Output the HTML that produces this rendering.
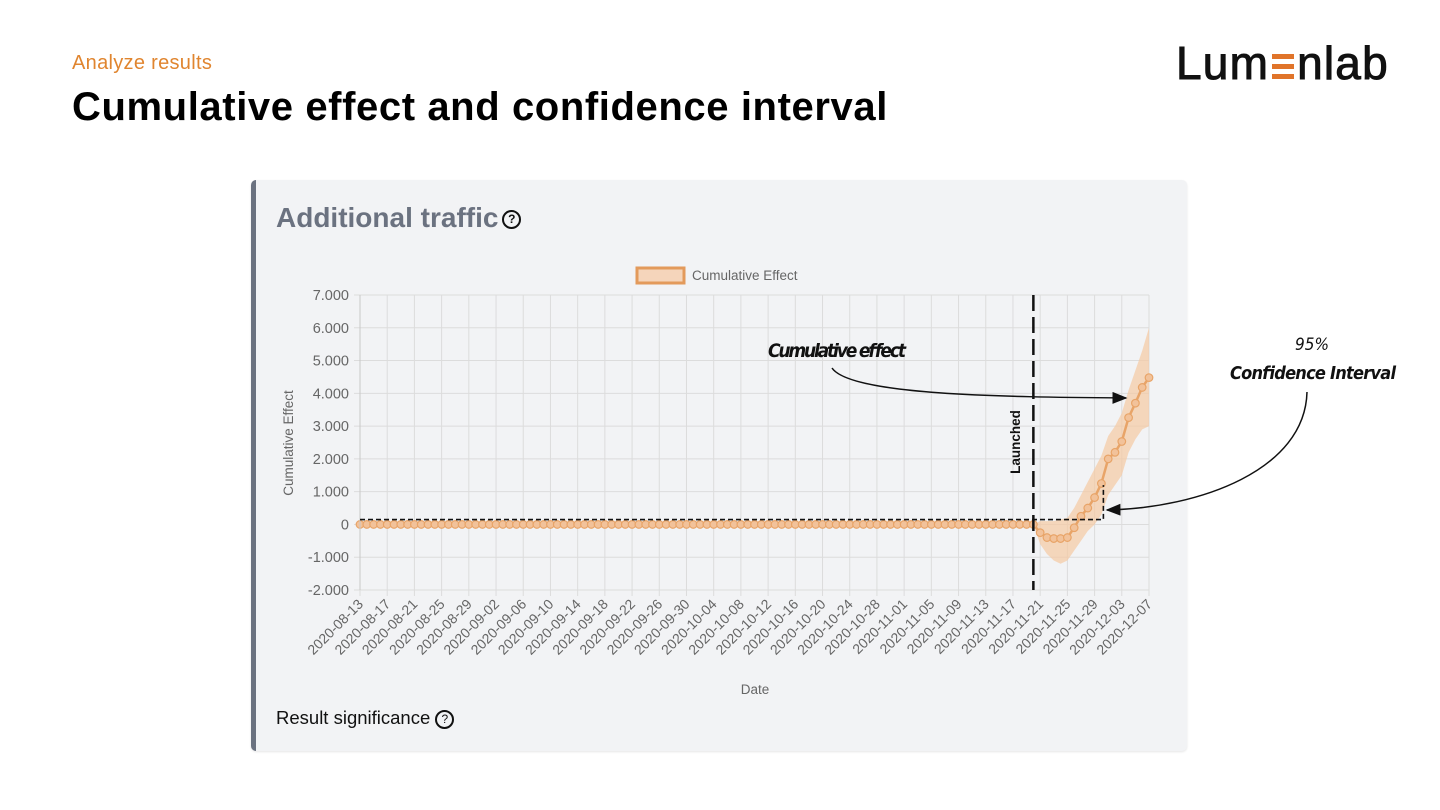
<!DOCTYPE html>
<html><head><meta charset="utf-8"><style>
body{margin:0;width:1440px;height:810px;background:#fff;font-family:"Liberation Sans",sans-serif;position:relative;overflow:hidden}
.abs{position:absolute}
</style></head><body>
<div class="abs" style="left:72px;top:52px;font-size:20px;color:#e0852f;letter-spacing:0.3px">Analyze results</div>
<div class="abs" style="left:72px;top:85px;font-size:40px;font-weight:bold;color:#000;letter-spacing:0.6px;white-space:nowrap">Cumulative effect and confidence interval</div>
<div class="abs" style="left:1176px;top:36px;font-size:46px;color:#111;letter-spacing:1.2px;white-space:nowrap;-webkit-text-stroke:1px #111">Lum<span style="display:inline-block;width:22px;height:25px;position:relative;margin:0 3px;vertical-align:0px"><span style="position:absolute;left:0;top:0;width:22px;height:5px;background:#e0742a"></span><span style="position:absolute;left:0;top:10px;width:22px;height:5px;background:#e0742a"></span><span style="position:absolute;left:0;top:20px;width:22px;height:5px;background:#e0742a"></span></span>nlab</div>
<div class="abs" style="left:251px;top:180px;width:936px;height:571px;background:#f2f3f5;border-left:5px solid #6b7280;border-radius:5px;box-sizing:border-box;box-shadow:0 1px 2px rgba(0,0,0,0.1)"></div>
<div class="abs" style="left:276px;top:202px;font-size:28px;font-weight:bold;color:#6b7280;white-space:nowrap">Additional traffic <span style="display:inline-block;width:15px;height:15px;border:2px solid #111;border-radius:50%;font-size:12px;color:#111;text-align:center;line-height:15px;vertical-align:4px;margin-left:-4px">?</span></div>
<div class="abs" style="left:276px;top:707px;font-size:18.5px;color:#111">Result significance <span style="display:inline-block;width:15px;height:15px;border:2px solid #111;border-radius:50%;font-size:12px;text-align:center;line-height:15px;vertical-align:1px">?</span></div>
<svg class="abs" style="left:0;top:0" width="1440" height="810" id="chart">
<g id="grid"></g><g id="marks"></g><g id="axes"></g><g id="annot"></g>
</svg>
<script>
const startDate = "2020-08-13";
const numDays = 117;
const launchDay = 99;
const yTicks = [-2000,-1000,0,1000,2000,3000,4000,5000,6000,7000];
const postValues = [0,-250,-400,-430,-430,-400,-100,250,500,820,1250,2000,2200,2530,3260,3700,4180,4480];
const postUpper = [0,100,100,100,150,200,500,900,1300,1700,2100,2700,3000,3400,4100,4700,5300,6000];
const postLower = [0,-600,-900,-1100,-1200,-1100,-800,-500,-200,0,300,900,1200,1500,2200,2600,2900,3000];
const thresholdValue = 150;
const thresholdTop = 1200;

const X0=360,X1=1149,Y0=295,Y1=590,NS="http://www.w3.org/2000/svg";
const x=d=>X0+(X1-X0)*d/(numDays-1);
const y=v=>Y0+(Y1-Y0)*(7000-v)/9000;
function el(p,t,a){const e=document.createElementNS(NS,t);for(const k in a)e.setAttribute(k,a[k]);p.appendChild(e);return e;}
const grid=document.getElementById('grid'),marks=document.getElementById('marks'),axes=document.getElementById('axes'),annot=document.getElementById('annot');
function fmt(v){return v===0?"0":(v<0?"-":"")+Math.abs(v/1000)+".000";}
yTicks.forEach(v=>{
 const l=el(grid,'line',{x1:X0-6,x2:X1,y1:y(v),y2:y(v),stroke:'#dcdcdc','stroke-width':1});
 
 
 const t=el(axes,'text',{x:X0-11,y:y(v)+5,'text-anchor':'end','font-size':14.5,fill:'#666'});
 t.textContent=fmt(v);
 
 
});
const sd=new Date(startDate+"T00:00:00Z");
for(let d=0;d<numDays;d+=4){
 const l=el(grid,'line',{x1:x(d),x2:x(d),y1:Y0,y2:Y1+6,stroke:'#dcdcdc','stroke-width':1});
 
 
 const dt=new Date(sd.getTime()+d*86400000).toISOString().slice(0,10);
 const t=el(axes,'text',{x:x(d)+4,y:Y1+15,'text-anchor':'end','font-size':14,fill:'#666',transform:`rotate(-45 ${x(d)+4} ${Y1+15})`});
 t.textContent=dt;
 
 
}
const ax=el(axes,'line',{x1:X0,x2:X0,y1:Y0,y2:Y1,stroke:'#c8c8c8'});


const yt=el(axes,'text',{x:293,y:443,'text-anchor':'middle','font-size':13.5,fill:'#666',transform:'rotate(-90 293 443)'});
yt.textContent='Cumulative Effect';


const xt=el(axes,'text',{x:755,y:694,'text-anchor':'middle','font-size':13.5,fill:'#666'});
xt.textContent='Date';


const lb=el(axes,'rect',{x:637,y:268,width:47,height:15,fill:'#f5d5bb',stroke:'#e39a5b','stroke-width':3});


const lt=el(axes,'text',{x:692,y:280,'font-size':13.5,fill:'#666'});
lt.textContent='Cumulative Effect';


let pts=[];
postUpper.forEach((v,i)=>pts.push(x(launchDay+i)+','+y(v)));
for(let i=postLower.length-1;i>=0;i--)pts.push(x(launchDay+i)+','+y(postLower[i]));
const band=el(marks,'polygon',{points:pts.join(' '),fill:'#f5c9a3','fill-opacity':0.7});


const vals=[];
for(let d=0;d<launchDay;d++)vals.push(0);
postValues.forEach(v=>vals.push(v));
const line=el(marks,'polyline',{points:vals.map((v,d)=>x(d)+','+y(v)).join(' '),fill:'none',stroke:'#e8a468','stroke-width':2.5});


vals.forEach((v,d)=>{
 const c=el(marks,'circle',{cx:x(d),cy:y(v),r:3.8,fill:'#f2c29a',stroke:'#e8a468','stroke-width':1.2});
 
 
});
const tl=el(annot,'polyline',{points:`${X0},${y(thresholdValue)} ${x(launchDay+10)+2},${y(thresholdValue)} ${x(launchDay+10)+2},${y(thresholdTop)}`,fill:'none',stroke:'#111','stroke-width':1.6,'stroke-dasharray':'5,3'});


const ll=el(annot,'line',{x1:x(launchDay),x2:x(launchDay),y1:Y0,y2:Y1,stroke:'#111','stroke-width':2.5,'stroke-dasharray':'16,6'});


const lt2=el(annot,'text',{x:1020,y:442,'text-anchor':'middle','font-size':13.5,'font-weight':'bold',fill:'#111',transform:'rotate(-90 1020 442)'});
lt2.textContent='Launched';


const defs=el(annot,'defs',{});
const mk=el(defs,'marker',{id:'ah',markerWidth:10,markerHeight:8,refX:9,refY:4,orient:'auto'});
el(mk,'path',{d:'M0,0 L10,4 L0,8 Z',fill:'#111'});
const a1=el(annot,'path',{d:'M832,368 C850,395 1000,397 1126,398',fill:'none',stroke:'#111','stroke-width':1.5,'marker-end':'url(#ah)'});


const a2=el(annot,'path',{d:'M1307,392 C1305,470 1200,508 1107,510',fill:'none',stroke:'#111','stroke-width':1.5,'marker-end':'url(#ah)'});


const t1=el(annot,'text',{x:768,y:357,'font-size':19,'font-style':'italic','font-weight':'bold',fill:'#111','font-family':'"DejaVu Sans Condensed","Liberation Sans",sans-serif',textLength:138});
t1.textContent='Cumulative effect';


const t2=el(annot,'text',{x:1312,y:350,'text-anchor':'middle','font-size':17,'font-style':'italic',fill:'#111','font-family':'"DejaVu Sans Condensed","Liberation Sans",sans-serif'});
t2.textContent='95%';


const t3=el(annot,'text',{x:1230,y:379,'font-size':18,'font-style':'italic','font-weight':'bold',fill:'#111','font-family':'"DejaVu Sans Condensed","Liberation Sans",sans-serif',textLength:166});
t3.textContent='Confidence Interval';


</script>
</body></html>
